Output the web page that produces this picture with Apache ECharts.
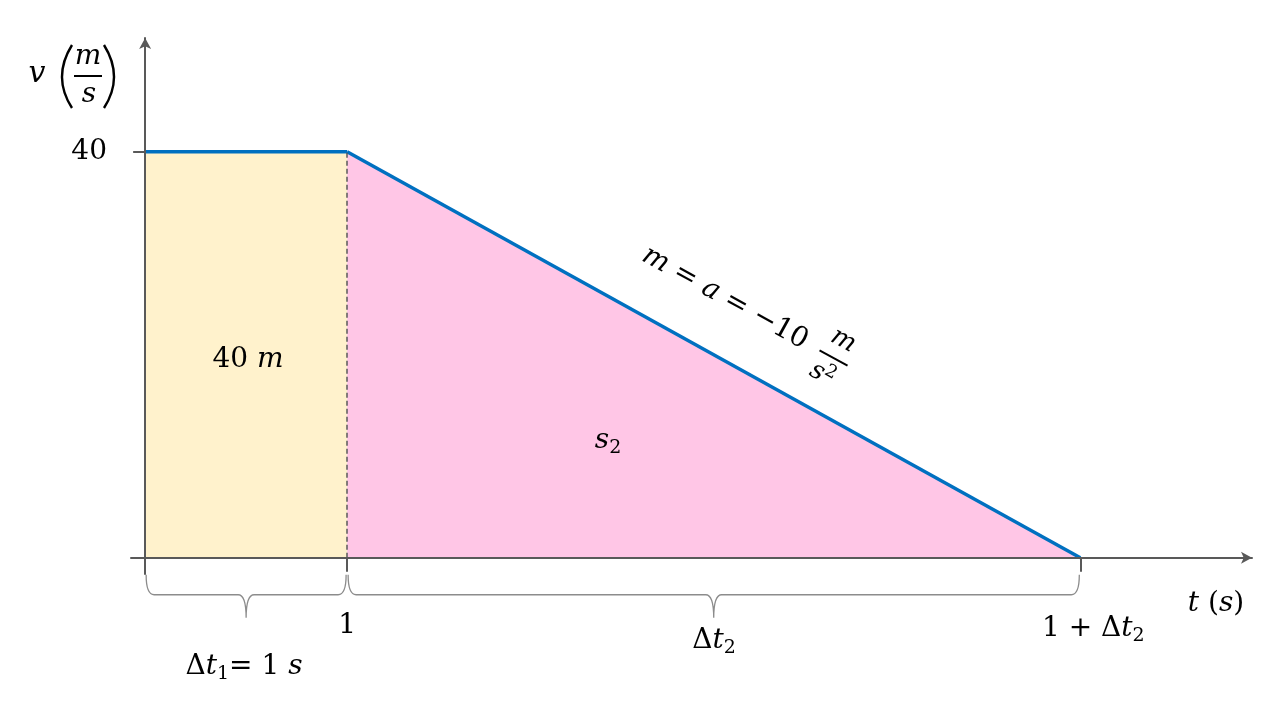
<!DOCTYPE html>
<html>
<head>
<meta charset="utf-8">
<style>html,body{margin:0;padding:0;background:#fff}#c{width:1280px;height:720px}</style>
<script src="https://cdn.jsdelivr.net/npm/echarts@6/dist/echarts.min.js"></script>
</head>
<body>
<div id="c"></div>
<script>
// ---- data ----
const tValues = [0, 1, 4.63];          // t of the velocity polyline
const vValues = [40, 40, 0];           // v of the velocity polyline
const xTickValues = [1, 4.63];
const xTickLabels = ['1', '1 + Δt₂'];
const yTickValues = [40];
const yTickLabels = ['40'];
const braceSpans = [[0, 1], [1, 4.63]];

const BLUE = '#0070C0', AXIS = '#595959', YEL = '#FFF2CC', PINK = '#FFC6E6';
const SERIF = '"DejaVu Serif", serif';
const FS = 28;

const seg1 = [[tValues[0], vValues[0]], [tValues[1], vValues[1]]];
const seg2 = [[tValues[1], vValues[1]], [tValues[2], vValues[2]]];

const chart = echarts.init(document.getElementById('c'));

const it = { fontFamily: SERIF, fontStyle: 'italic', fontSize: FS, color: '#000' };
const up = { fontFamily: SERIF, fontSize: FS, color: '#000' };
const sub = { fontFamily: SERIF, fontSize: 19, color: '#000', verticalAlign: 'bottom', padding: [15, 0, 0, 0] };

chart.setOption({
  animation: false,
  grid: { left: 131, right: 28, top: 38, bottom: 146 },
  xAxis: {
    type: 'value', min: -0.07, max: 5.48, z: 5,
    splitLine: { show: false },
    axisLine: { show: true, onZero: true, symbol: ['none', 'arrow'], symbolSize: [9, 11],
      lineStyle: { color: AXIS, width: 2 } },
    axisTick: { show: true, customValues: xTickValues, length: 14, inside: false,
      lineStyle: { color: AXIS, width: 2 } },
    axisLabel: {
      customValues: xTickValues, margin: 38, color: '#000', fontFamily: SERIF, fontSize: FS,
      formatter: (v) => {
        const i = xTickValues.indexOf(v);
        if (i === 0) return '{u|' + xTickLabels[0] + '}';
        return '{sp|}{u|1 + Δ}{i|t}{s|2}';
      },
      rich: { u: up, i: it, s: sub, sp: { width: 26 } }
    }
  },
  yAxis: {
    type: 'value', min: -1.6, max: 51.2, z: 5,
    splitLine: { show: false },
    axisLine: { show: true, onZero: true, symbol: ['none', 'arrow'], symbolSize: [9, 11],
      lineStyle: { color: AXIS, width: 2 } },
    axisTick: { show: true, customValues: yTickValues, length: 12, lineStyle: { color: AXIS, width: 2 } },
    axisLabel: { customValues: yTickValues, margin: 24, color: '#000', fontFamily: SERIF, fontSize: FS,
      formatter: (v) => yTickLabels[yTickValues.indexOf(v)] }
  },
  series: [
    {
      type: 'line', data: seg1, symbol: 'none', z: 2,
      lineStyle: { color: BLUE, width: 3.5 },
      areaStyle: { color: YEL, opacity: 1 }
    },
    {
      type: 'line', data: seg2, symbol: 'none', z: 2,
      lineStyle: { color: BLUE, width: 3.5 },
      areaStyle: { color: PINK, opacity: 1 },
      markLine: {
        silent: true, symbol: 'none', label: { show: false }, z: 4,
        lineStyle: { color: AXIS, type: [5, 3], width: 1.5, opacity: 1 },
        data: [[{ coord: [tValues[1], 0] }, { coord: [tValues[1], vValues[1]] }]]
      }
    },
    {
      type: 'custom', clip: false, z: 3, silent: true,
      data: braceSpans,
      renderItem: (params, api) => {
        const x0 = api.coord([api.value(0), 0])[0] + 1;
        const x1 = api.coord([api.value(1), 0])[0] - 1;
        const y0 = api.coord([0, 0])[1];
        const yt = y0 + 17, yh = y0 + 37, yc = y0 + 60;
        const xm = (x0 + x1) / 2;
        const r = 8;
        const d = `M${x0} ${yt} Q${x0} ${yh} ${x0 + r} ${yh} L${xm - r} ${yh} Q${xm} ${yh} ${xm} ${yc} ` +
                  `Q${xm} ${yh} ${xm + r} ${yh} L${x1 - r} ${yh} Q${x1} ${yh} ${x1} ${yt}`;
        return { type: 'path', shape: { pathData: d }, style: { fill: null, stroke: '#8C8C8C', lineWidth: 1.3 } };
      }
    }
  ],
  graphic: [
    // y axis title v (m/s)
    { type: 'text', z: 100, x: 37, y: 74, style: { text: 'v', font: 'italic 30px ' + SERIF, fill: '#000', align: 'center', verticalAlign: 'middle' } },
    { type: 'bezierCurve', z: 100, shape: { x1: 72, y1: 45, cpx1: 52, cpy1: 77, x2: 72, y2: 108 }, style: { fill: null, stroke: '#000', lineWidth: 2.4 } },
    { type: 'bezierCurve', z: 100, shape: { x1: 104, y1: 45, cpx1: 124, cpy1: 77, x2: 104, y2: 108 }, style: { fill: null, stroke: '#000', lineWidth: 2.4 } },
    { type: 'text', z: 100, x: 88, y: 57, style: { text: 'm', font: 'italic 28px ' + SERIF, fill: '#000', align: 'center', verticalAlign: 'middle' } },
    { type: 'line', z: 100, shape: { x1: 74, y1: 76, x2: 102, y2: 76 }, style: { stroke: '#000', lineWidth: 2 } },
    { type: 'text', z: 100, x: 89, y: 95, style: { text: 's', font: 'italic 28px ' + SERIF, fill: '#000', align: 'center', verticalAlign: 'middle' } },
    // x axis title t (s)
    { type: 'text', z: 100, x: 1216, y: 604, style: { rich: { i: it, u: up }, text: '{i|t}{u| (}{i|s}{u|)}', align: 'center', verticalAlign: 'middle' } },
    // area labels
    { type: 'text', z: 100, x: 248, y: 360, style: { rich: { i: it, u: up }, text: '{u|40 }{i|m}', align: 'center', verticalAlign: 'middle' } },
    { type: 'text', z: 100, x: 608, y: 441, style: { rich: { i: it, s: sub }, text: '{i|s}{s|2}', align: 'center', verticalAlign: 'middle' } },
    // brace labels
    { type: 'text', z: 100, x: 714, y: 641, style: { rich: { i: it, u: up, s: sub }, text: '{u|Δ}{i|t}{s|2}', align: 'center', verticalAlign: 'middle' } },
    { type: 'text', z: 100, x: 244, y: 667, style: { rich: { i: it, u: up, s: sub }, text: '{u|Δ}{i|t}{s|1}{u|= 1 }{i|s}', align: 'center', verticalAlign: 'middle' } },
    // slope label
    {
      type: 'group', z: 100, x: 725, y: 298, rotation: -0.505,
      children: [
        { type: 'text', z: 100, x: 0, y: 0, style: { rich: { i: it, u: up }, text: '{i|m}{u| = }{i|a}{u| = −10}', align: 'center', verticalAlign: 'middle' } },
        { type: 'text', z: 100, x: 124, y: -20, style: { text: 'm', font: 'italic 26px ' + SERIF, fill: '#000', align: 'center', verticalAlign: 'middle' } },
        { type: 'line', z: 100, shape: { x1: 108, y1: 0, x2: 140, y2: 0 }, style: { stroke: '#000', lineWidth: 2 } },
        { type: 'text', z: 100, x: 122, y: 20, style: { rich: { i: { fontFamily: SERIF, fontStyle: 'italic', fontSize: 26, color: '#000' }, p: { fontFamily: SERIF, fontSize: 18, color: '#000', verticalAlign: 'top', padding: [0, 0, 12, 0] } }, text: '{i|s}{p|2}', align: 'center', verticalAlign: 'middle' } }
      ]
    }
  ]
});
</script>
</body>
</html>
